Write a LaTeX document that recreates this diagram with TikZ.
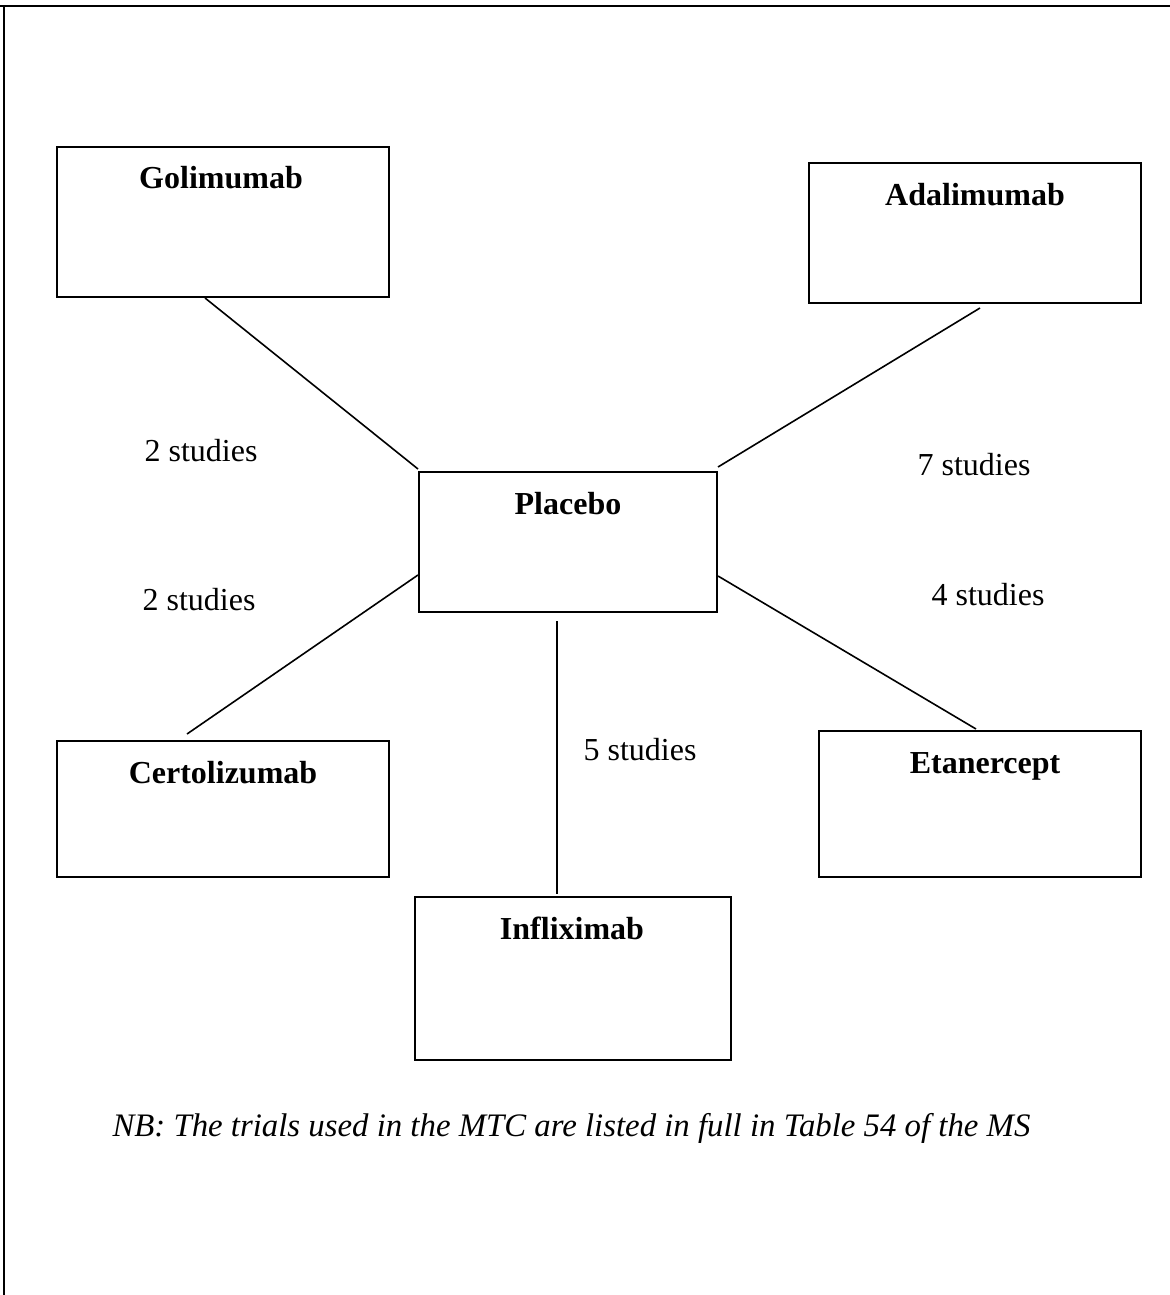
\documentclass[tikz,border=0pt]{standalone}
\usepackage{fontspec}
\setmainfont{Liberation Serif}
\usetikzlibrary{calc}
\begin{document}
\begin{tikzpicture}[x=0.375pt,y=-0.375pt,
  box/.style={draw,line width=0.75pt,rectangle,inner sep=0pt},
  conn/.style={line width=0.6pt},
  lbl/.style={font=\fontsize{12}{14}\selectfont\bfseries,anchor=base,inner sep=0pt},
  stud/.style={font=\fontsize{12}{14}\selectfont,anchor=base,inner sep=0pt},
  frame/.style={line width=0.8pt}]
\useasboundingbox (0,0) rectangle (1170,1295);
\fill[white] (0,0) rectangle (1170,1295);
\coordinate (tl) at (4,6);
\coordinate (tr) at (1170,6);
\coordinate (bl) at (4,1295);
\draw[frame] (tr) -- (tl) -- (bl);
\coordinate (tl0) at (0,6);
\draw[frame] (tl0) -- (tl);

\node[box,minimum width=124.5pt,minimum height=56.25pt] (gol) at (223,222) {};
\node[box,minimum width=124.5pt,minimum height=52.5pt] (ada) at (975,233) {};
\node[box,minimum width=111.75pt,minimum height=52.5pt] (pla) at (568,542) {};
\node[box,minimum width=124.5pt,minimum height=51pt] (cer) at (223,809) {};
\node[box,minimum width=120.75pt,minimum height=54.75pt] (eta) at (980,804) {};
\node[box,minimum width=118.5pt,minimum height=61.125pt] (inf) at (573,978.5) {};

\node[lbl] (golt) at ($(gol.north)+(-2,43)$) {Golimumab};
\node[lbl] (adat) at ($(ada.north)+(0,43)$) {Adalimumab};
\node[lbl] (plat) at ($(pla.north)+(0,43)$) {Placebo};
\node[lbl] (cert) at ($(cer.north)+(0,43)$) {Certolizumab};
\node[lbl] (etat) at ($(eta.north)+(5,43)$) {Etanercept};
\node[lbl] (inft) at ($(inf.north)+(-1,43)$) {Infliximab};

\draw[conn] ($(gol.south)+(-18,0)$) -- ($(pla.north west)+(0,-2)$);
\draw[conn] ($(ada.south)+(5,4)$) -- ($(pla.north east)+(0,-4)$);
\draw[conn] ($(cer.north)+(-36,-6)$) -- ($(pla.west)+(0,33)$);
\draw[conn] ($(eta.north)+(-4,-1)$) -- ($(pla.east)+(0,34)$);
\draw[conn] ($(pla.south)+(-11,8)$) -- ($(inf.north)+(-16,-2)$);

\node[stud] (s1) at (201,461) {2 studies};
\node[stud] (s2) at (199,610) {2 studies};
\node[stud] (s3) at (974,475) {7 studies};
\node[stud] (s4) at (988,605) {4 studies};
\node[stud] (s5) at (640,760) {5 studies};

\node[font=\fontsize{12.3}{14}\selectfont\itshape,anchor=base west,inner sep=0pt] (nb) at (112,1136) {NB: The trials used in the MTC are listed in full in Table 54 of the MS};
\end{tikzpicture}
\end{document}
